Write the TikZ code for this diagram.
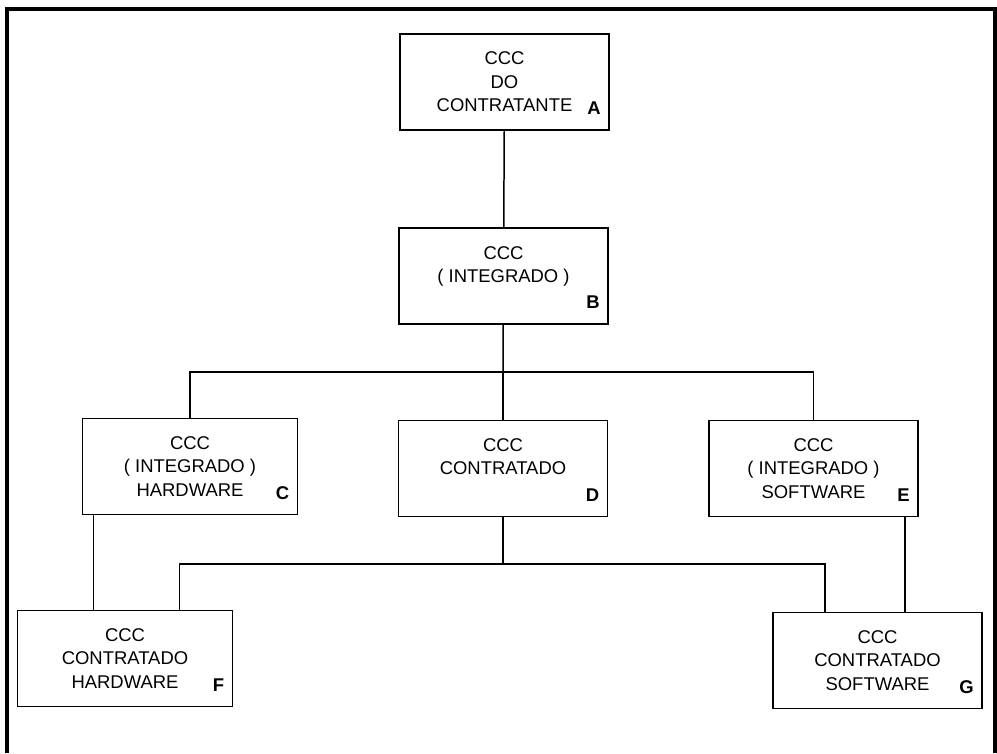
\documentclass[tikz,border=0pt]{standalone}
\usepackage{fontspec}
\setmainfont{Liberation Sans}
\usepackage{tikz}
\usetikzlibrary{positioning, calc}
\tikzstyle{box} = [
    rectangle, draw, align=center,
    line width=1.1pt,
    minimum width=4.18cm,
    minimum height=1.92cm,
    font=\fontsize{10.5}{13.3}\selectfont,
]
\tikzstyle{wide} = [
    box,
    minimum width=4.3cm,
]
\tikzstyle{letter} = [
    inner sep=0pt,
    anchor=base east,
    font=\fontsize{10.5}{13.3}\selectfont\bfseries,
]
\tikzstyle{link} = [line width=0.85pt]
\tikzstyle{frame} = [line width=2.2pt]

\begin{document}
\begin{tikzpicture}
    \useasboundingbox (0,0) rectangle (19.94,-15.06);
    \draw [frame] (0.14,-15.06) |- (19.9,-0.18) -- (19.9,-15.06);

    % boxes
    \node (A) at (10.09,-1.64) [box] {CCC\\DO\\CONTRATANTE};
    \node (B) at (10.07,-5.52) [box] {CCC\\( INTEGRADO )\\\mbox{}};
    \node (C) at (3.8,-9.33) [wide] {CCC\\( INTEGRADO )\\HARDWARE};
    \node (D) at (10.06,-9.37) [box] {CCC\\CONTRATADO\\\mbox{}};
    \node (E) at (16.27,-9.37) [box] {CCC\\( INTEGRADO )\\SOFTWARE};
    \node (F) at (2.5,-13.17) [wide] {CCC\\CONTRATADO\\HARDWARE};
    \node (G) at (17.55,-13.21) [box] {CCC\\CONTRATADO\\SOFTWARE};
    \foreach \n in {A,...,G} {
        \node (id\n) at ($(\n.south east)+(-0.18,0.32)$) [letter] {\n};
    }

    % lines
    \coordinate (split1) at (10.06,-7.44);
    \coordinate (split2) at (10.06,-11.28);
    \coordinate (hw) at ($(C.south west)+(0.24,0)$);
    \coordinate (sw) at ($(E.south east)+(-0.28,0)$);
    \draw [link] (A) -- (B);
    \draw [link] (B) -- (split1);
    \draw [link] (C) |- (split1) -| (E);
    \draw [link] (split1) -- (D);
    \draw [link] (D) -- (split2);
    \draw [link] ($(F.north east)+(-1.08,0)$) |- (split2) -| ($(G.north west)+(1.06,0)$);
    \draw [link] (hw) -- (hw |- F.north);
    \draw [link] (sw) -- (sw |- G.north);
\end{tikzpicture}
\end{document}
